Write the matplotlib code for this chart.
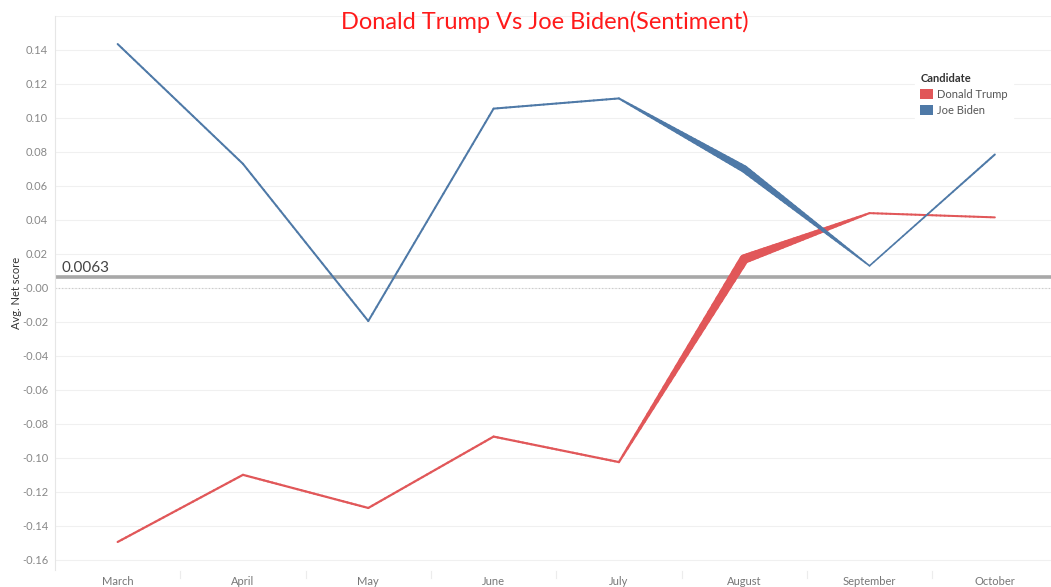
import numpy as np
import matplotlib.pyplot as plt
from matplotlib.collections import LineCollection
from matplotlib.patches import Patch

months = ["March", "April", "May", "June", "July", "August", "September", "October"]
biden = [0.1435, 0.0730, -0.0195, 0.1055, 0.1115, 0.0700, 0.0130, 0.0785]
trump = [-0.1495, -0.1100, -0.1295, -0.0875, -0.1025, 0.0170, 0.0440, 0.0415]
# line size (Tableau size mark) at each month, in pixels
biden_size = [2.0, 2.0, 2.0, 2.0, 2.0, 7.5, 1.6, 2.0]
trump_size = [2.2, 2.2, 2.2, 2.2, 2.2, 9.5, 2.0, 2.0]
ref_value = 0.0063

BLUE = "#4e79a7"
RED = "#e15759"

plt.rcParams['font.family'] = ['Lato', 'DejaVu Sans']

fig = plt.figure(figsize=(10.51, 5.87), dpi=100)
ax = fig.add_axes([55 / 1051, 1 - 570 / 587, 1005 / 1051, (570 - 16) / 587])

x = np.arange(len(months))


def tapered(ax, xs, ys, sizes, color, z):
    segs = []
    widths = []
    for i in range(len(xs) - 1):
        n = 30
        t = np.linspace(0, 1, n + 1)
        px = xs[i] + (xs[i + 1] - xs[i]) * t
        py = ys[i] + (ys[i + 1] - ys[i]) * t
        pw = sizes[i] + (sizes[i + 1] - sizes[i]) * t
        for k in range(n):
            segs.append([(px[k], py[k]), (px[k + 1], py[k + 1])])
            widths.append((pw[k] + pw[k + 1]) / 2 * 0.72)
    lc = LineCollection(segs, linewidths=widths, colors=color, capstyle='round',
                        joinstyle='round', zorder=z)
    ax.add_collection(lc)


for y in np.arange(-0.16, 0.161, 0.02):
    ax.axhline(y, color="#f0f0f0", lw=0.8, zorder=0)
ax.axhline(0, color="#c8c8c8", lw=0.8, ls=(0, (1, 2)), zorder=1)

ax.axhline(ref_value, color="#a8a8a8", lw=2.6, zorder=2)
ax.text(-0.45, ref_value + 0.0015, "0.0063", fontsize=11, color="#444444",
        va="bottom", ha="left", zorder=5)

tapered(ax, x, trump, trump_size, RED, 3)
tapered(ax, x, biden, biden_size, BLUE, 4)

ax.set_xlim(-0.5, 7.52)
ax.set_ylim(-0.166, 0.16)
ax.set_xticks(x)
ax.set_xticklabels(months, fontsize=8, color="#777777")
ax.set_yticks(np.arange(-0.16, 0.141, 0.02))
ax.set_yticklabels(["%.2f" % v for v in np.arange(-0.16, 0.141, 0.02)],
                   fontsize=8, color="#888888")
ax.tick_params(axis="y", length=0, pad=5)
ax.tick_params(axis="x", length=0, pad=4)
for s in ["top", "right", "bottom"]:
    ax.spines[s].set_visible(False)
ax.spines["left"].set_color("#e6e6e6")
ax.set_ylabel("Avg. Net score", fontsize=8, color="#333333", labelpad=0)

# header separators under the plot
for b in np.arange(0.5, 7.5, 1):
    ax.plot([b, b], [-0.1665, -0.1705], color="#ececec", lw=0.8, clip_on=False)

fig.text(545 / 1051, 1 - 22 / 587, "Donald Trump Vs Joe Biden(Sentiment)",
         color="#ff1a1a", fontsize=17, ha="center", va="center")

handles = [Patch(facecolor=RED, label="Donald Trump"),
           Patch(facecolor=BLUE, label="Joe Biden")]
leg = ax.legend(handles=handles, title="Candidate", loc="upper left",
                bbox_to_anchor=(0.85, 0.918), fontsize=8, title_fontsize=8,
                frameon=True, handlelength=1.1, handleheight=1.1,
                handletextpad=0.4, labelspacing=0.45, borderpad=0.5)
leg.get_frame().set_edgecolor("white")
leg.get_frame().set_facecolor("white")
leg.get_frame().set_alpha(1)
leg.get_title().set_fontweight("bold")
leg.get_title().set_color("#333333")
leg._legend_box.align = "left"
for t in leg.get_texts():
    t.set_color("#555555")

fig.savefig("out.png", dpi=100)
